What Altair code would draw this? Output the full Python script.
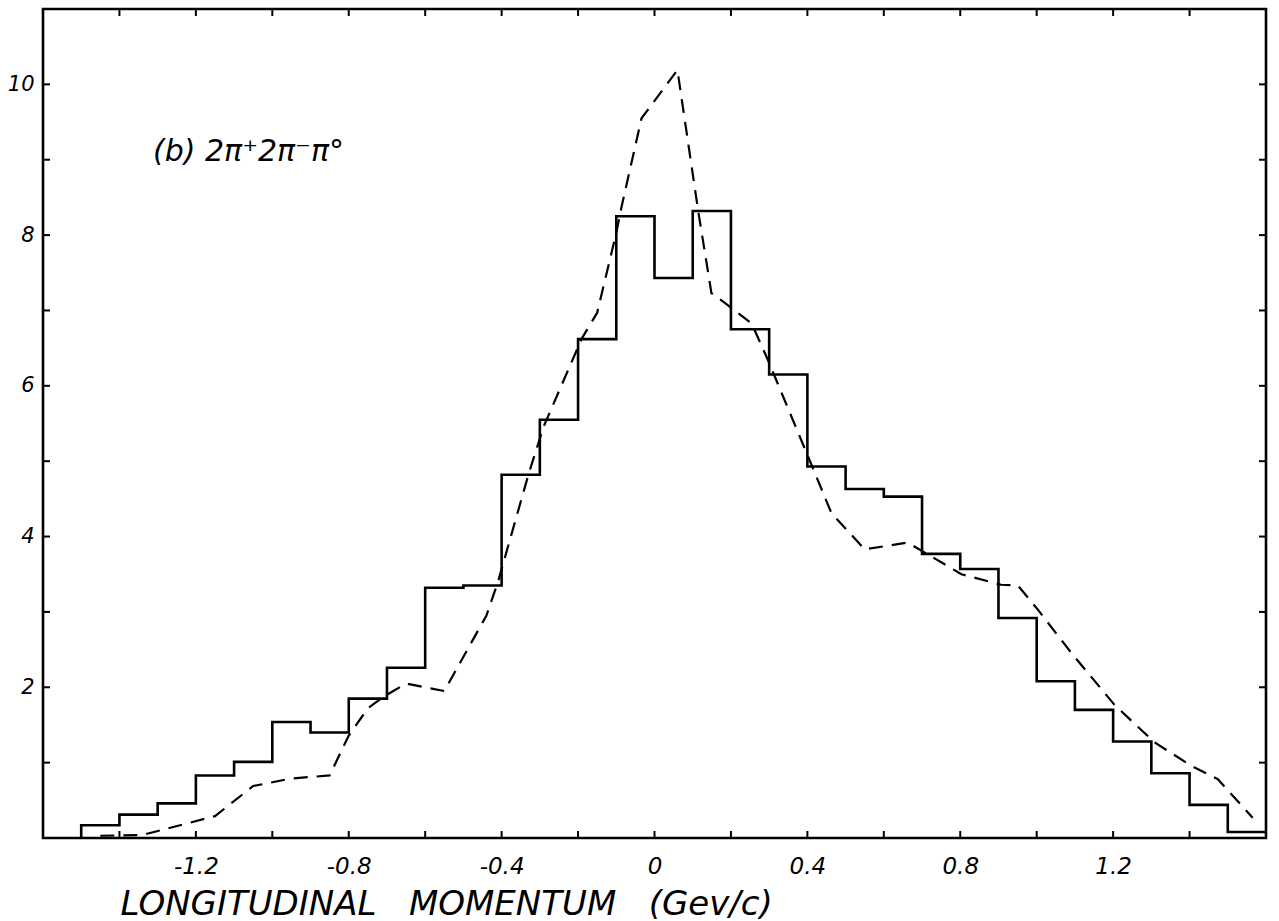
import altair as alt
import pandas as pd

# ---- data ----
bin_left = [-1.5, -1.4, -1.3, -1.2, -1.1, -1.0, -0.9, -0.8, -0.7, -0.6, -0.5,
            -0.4, -0.3, -0.2, -0.1, 0.0, 0.1, 0.2, 0.3, 0.4, 0.5, 0.6, 0.7,
            0.8, 0.9, 1.0, 1.1, 1.2, 1.3, 1.4, 1.5]
counts = [0.17, 0.31, 0.46, 0.83, 1.01, 1.54, 1.40, 1.85, 2.26, 3.32, 3.35,
          4.82, 5.55, 6.62, 8.25, 7.43, 8.32, 6.75, 6.15, 4.93, 4.63, 4.53, 3.77,
          3.57, 2.92, 2.08, 1.70, 1.28, 0.86, 0.44, 0.08]
bin_right_end = 1.6

curve_x = [-1.45, -1.34, -1.15, -1.05, -0.95, -0.85, -0.80, -0.75, -0.71,
           -0.65, -0.55, -0.44, -0.41, -0.33, -0.29, -0.19, -0.15, -0.10,
           -0.086, -0.034, 0.06, 0.114, 0.149, 0.184, 0.254, 0.297, 0.315,
           0.402, 0.463, 0.55, 0.663, 0.803, 0.907, 0.951, 1.003, 1.09, 1.203,
           1.308, 1.404, 1.474, 1.565]
curve_y = [0.03, 0.04, 0.29, 0.69, 0.79, 0.83, 1.36, 1.72, 1.87,
           2.05, 1.95, 2.95, 3.39, 4.82, 5.46, 6.63, 6.97, 8.03,
           8.38, 9.55, 10.19, 8.33, 7.23, 7.10, 6.83, 6.34, 6.12,
           5.06, 4.31, 3.83, 3.92, 3.50, 3.36, 3.35, 3.03, 2.46, 1.77,
           1.27, 0.96, 0.78, 0.27]

x_tick_values = [-1.4, -1.2, -1.0, -0.8, -0.6, -0.4, -0.2, 0.0, 0.2, 0.4,
                 0.6, 0.8, 1.0, 1.2, 1.4]
x_label_values = [-1.2, -0.8, -0.4, 0.0, 0.4, 0.8, 1.2]
y_tick_values = [1, 2, 3, 4, 5, 6, 7, 8, 9, 10]
y_label_values = [2, 4, 6, 8, 10]
x_domain = [-1.6, 1.6]
y_domain = [0, 11]

annotation = "(b)  2\u03c0\u207a2\u03c0\u207b\u03c0\u00b0"
x_title = "LONGITUDINAL\u00a0\u00a0\u00a0MOMENTUM\u00a0\u00a0\u00a0(Gev/c)"

# ---- layout ----
W, H = 1223, 829
FONT = "DejaVu Sans"
TICK = 7

xs = alt.Scale(domain=x_domain, nice=False, zero=False)
ys = alt.Scale(domain=y_domain, nice=False, zero=False)

hist_df = pd.DataFrame({
    "x": [bin_left[0]] + bin_left + [bin_right_end],
    "y": [0.0] + counts + [counts[-1]],
})
curve_df = pd.DataFrame({"x": curve_x, "y": curve_y})
xt_df = pd.DataFrame({"t": x_tick_values})
yt_df = pd.DataFrame({"t": y_tick_values})
ann_df = pd.DataFrame({"label": [annotation]})

x_axis = alt.Axis(
    values=x_label_values,
    labelExpr="datum.value == 0 ? '0' : replace(format(datum.value, '.1f'), '\u2212', '-')",
    ticks=False, domain=False, grid=False,
    labelFont=FONT, labelFontSize=23, labelFontStyle="italic",
    labelColor="black", labelPadding=17,
    title=x_title, titleFont=FONT, titleFontSize=34, titleFontStyle="italic",
    titleFontWeight="normal", titleColor="black",
    titleX=77, titleY=66, titleAlign="left", titleBaseline="middle",
)
y_axis = alt.Axis(
    values=y_label_values, format="d",
    ticks=False, domain=False, grid=False,
    labelFont=FONT, labelFontSize=21, labelFontStyle="italic",
    labelColor="black", labelPadding=9, title=None,
)

hist = alt.Chart(hist_df).mark_line(
    interpolate="step-after", color="black", strokeWidth=2.6
).encode(
    x=alt.X("x:Q", scale=xs, axis=x_axis),
    y=alt.Y("y:Q", scale=ys, axis=y_axis),
)

curve = alt.Chart(curve_df).mark_line(
    color="black", strokeWidth=2.2, strokeDash=[14, 9]
).encode(
    x=alt.X("x:Q", scale=xs),
    y=alt.Y("y:Q", scale=ys),
    order="x:Q",
)

bottom_ticks = alt.Chart(xt_df).mark_rule(color="black", strokeWidth=2).encode(
    x=alt.X("t:Q", scale=xs), y=alt.value(H), y2=alt.value(H - TICK))
top_ticks = alt.Chart(xt_df).mark_rule(color="black", strokeWidth=2).encode(
    x=alt.X("t:Q", scale=xs), y=alt.value(0), y2=alt.value(TICK))
left_ticks = alt.Chart(yt_df).mark_rule(color="black", strokeWidth=2).encode(
    y=alt.Y("t:Q", scale=ys), x=alt.value(0), x2=alt.value(TICK))
right_ticks = alt.Chart(yt_df).mark_rule(color="black", strokeWidth=2).encode(
    y=alt.Y("t:Q", scale=ys), x=alt.value(W - TICK), x2=alt.value(W))

ann = alt.Chart(ann_df).mark_text(
    font=FONT, fontSize=30, fontStyle="italic", align="left",
    baseline="middle", color="black"
).encode(x=alt.value(110), y=alt.value(143), text="label:N")

chart = alt.layer(
    hist, curve, bottom_ticks, top_ticks, left_ticks, right_ticks, ann
).properties(
    width=W, height=H,
    autosize=alt.AutoSizeParams(type="none"),
    padding={"left": 43, "top": 9, "right": 13, "bottom": 83},
    background="white",
).configure_view(stroke="black", strokeWidth=2.6)

chart.save("out.html", embed_options={"renderer": "svg", "actions": False})
